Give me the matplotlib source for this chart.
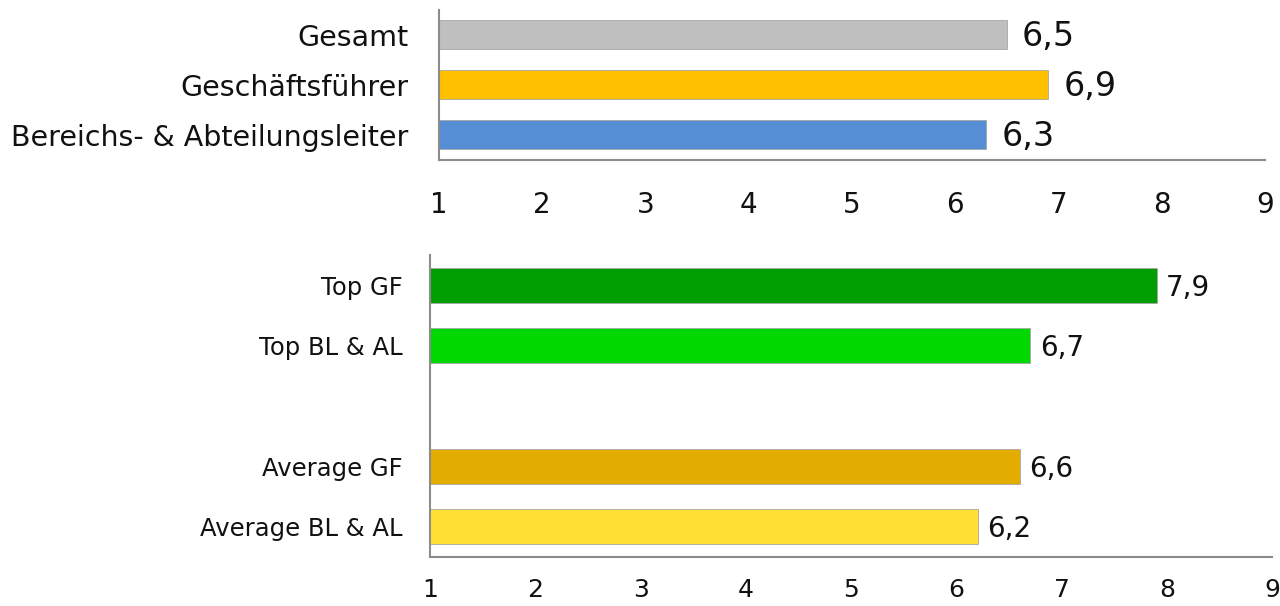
import matplotlib
matplotlib.use("Agg")
import matplotlib.pyplot as plt
import numpy as np

# Top panel: overall scores
top_labels = ["Gesamt", "Geschäftsführer", "Bereichs- & Abteilungsleiter"]
top_values = [6.5, 6.9, 6.3]
top_colors = ["#BFBFBF", "#FFC000", "#558ED5"]

# Bottom panel: top vs. average (empty slot separates the groups)
bot_labels = ["Top GF", "Top BL & AL", "", "Average GF", "Average BL & AL"]
bot_values = [7.9, 6.7, np.nan, 6.6, 6.2]
bot_colors = ["#009E00", "#00D800", "none", "#E3AC00", "#FFE033"]

x_ticks = [1, 2, 3, 4, 5, 6, 7, 8, 9]

FONT = "DejaVu Sans"
SPINE = "#8C8C8C"


def fmt(v):
    return f"{v:.1f}".replace(".", ",")


def panel(ax, labels, values, colors, lab_size, val_size, val_gap,
          tick_size, tick_pad, lab_pad):
    y = np.arange(len(labels))
    for yi, v, c in zip(y, values, colors):
        if np.isnan(v):
            continue
        ax.barh(yi, v - 1, left=1, height=0.58, color=c,
                edgecolor="#A6A6A6", linewidth=0.6)
        ax.text(v + val_gap, yi + 0.04, fmt(v), fontsize=val_size, family=FONT,
                ha="left", va="center", color="#111111")
    ax.set_xlim(1, 9)
    ax.set_ylim(len(labels) - 0.5, -0.5)
    ax.set_yticks(y)
    ax.set_yticklabels(labels, fontsize=lab_size, family=FONT, color="#111111")
    ax.set_xticks(x_ticks)
    ax.set_xticklabels([str(t) for t in x_ticks], fontsize=tick_size,
                       family=FONT, color="#111111")
    ax.tick_params(axis="both", length=0)
    ax.tick_params(axis="y", pad=lab_pad)
    ax.tick_params(axis="x", pad=tick_pad)
    for s in ("top", "right"):
        ax.spines[s].set_visible(False)
    for s in ("left", "bottom"):
        ax.spines[s].set_color(SPINE)
        ax.spines[s].set_linewidth(1.5)


fig = plt.figure(figsize=(12.8, 6.06), dpi=100)
ax1 = fig.add_axes([0.343, 0.736, 0.645, 0.2475])
ax2 = fig.add_axes([0.336, 0.081, 0.658, 0.498])

panel(ax1, top_labels, top_values, top_colors, 20.5, 24, 0.15, 20, 22, 22)
panel(ax2, bot_labels, bot_values, bot_colors, 17.5, 20, 0.09, 18, 15, 20)

fig.savefig("out.png", dpi=100, facecolor="white")
